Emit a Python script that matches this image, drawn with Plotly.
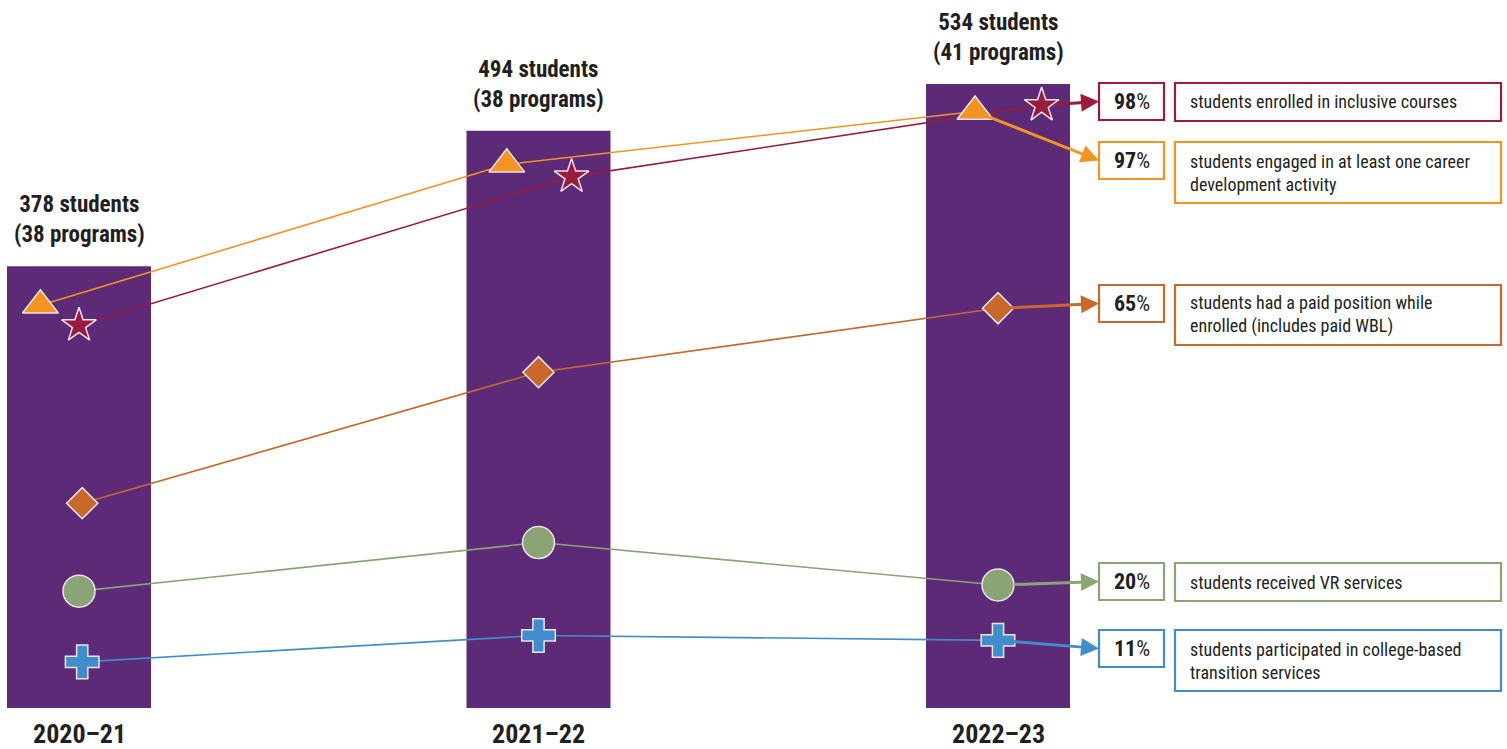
import plotly.graph_objects as go

# ---------------- data ----------------
years = ["2020–21", "2021–22", "2022–23"]
students = [378, 494, 534]
programs = [38, 38, 41]

series_names = ["inclusive", "career", "paid", "vr", "college"]
inclusive = [62.2, 86.4, 98]
career = [65.5, 88.4, 97]
paid = [33.3, 54.6, 65]
vr = [19.0, 26.9, 20]
college = [7.5, 11.8, 11]

labels = {
    "inclusive": "students enrolled in inclusive courses",
    "career": "students engaged in at least one career<br>development activity",
    "paid": "students had a paid position while<br>enrolled (includes paid WBL)",
    "vr": "students received VR services",
    "college": "students participated in college-based<br>transition services",
}

# ---------------- styling ----------------
W, H = 1507, 749
X0_PX, X_UNIT = 79, 459.5          # pixel of first category, px per category
Y0_PX = 708                        # baseline pixel
Y_STU = 624 / 534                  # px per student
Y_PCT = 6.15                       # px per percent

FONT = "Roboto Condensed, Liberation Sans Narrow, Roboto, sans-serif"
TXT = "#231f20"
PURPLE = "#5c2a77"

style = {
    "inclusive": dict(color="#9b1b3c", symbol="star", size=26, dx=[0.0, 0.072, 0.095]),
    "career": dict(color="#f39322", symbol="triangle-up", size=31, dx=[-0.084, -0.069, -0.050]),
    "paid": dict(color="#c8682a", symbol="diamond", size=24, dx=[0.007, 0, 0]),
    "vr": dict(color="#8aa475", symbol="circle", size=32, dx=[0, 0, 0]),
    "college": dict(color="#418dcb", symbol="cross", size=28, dx=[0.007, 0, 0]),
}
values = dict(inclusive=inclusive, career=career, paid=paid, vr=vr, college=college)

# label boxes: (top px, text-box height px)
boxes = {
    "inclusive": (83, 38),
    "career": (142, 61),
    "paid": (285, 60),
    "vr": (563, 38),
    "college": (630, 61),
}
PCT_L, PCT_R = 1099, 1164
LAB_L, LAB_R = 1175, 1501
PCT_H = 37


def px2x(px):
    return (px - X0_PX) / X_UNIT


def py2pct(py):
    return (Y0_PX - py) / Y_PCT


fig = go.Figure()

xs = list(range(len(years)))
fig.add_trace(go.Bar(
    x=xs, y=students, width=144 / X_UNIT, marker=dict(color=PURPLE, line=dict(width=0)),
    yaxis="y", hoverinfo="skip",
))

draw_order = ["college", "vr", "paid", "inclusive", "career"]
for name in draw_order:
    s = style[name]
    xv = [i + d for i, d in zip(xs, s["dx"])]
    fig.add_trace(go.Scatter(
        x=xv, y=values[name], yaxis="y2", mode="lines+markers",
        line=dict(color=s["color"], width=1.6),
        marker=dict(symbol=s["symbol"], size=s["size"], color=s["color"],
                    line=dict(color="#ebe4ea", width=1.5)),
        hoverinfo="skip",
    ))

annotations = []
shapes = []

# student count labels above bars, year labels below
for i, (n, p) in enumerate(zip(students, programs)):
    annotations.append(dict(
        x=i, y=n, xref="x", yref="y", xanchor="center", yanchor="bottom", yshift=16,
        showarrow=False, text=f"<b>{n} students<br>({p} programs)</b>",
        font=dict(family=FONT, size=23, color=TXT), align="center",
    ))
    annotations.append(dict(
        x=i, y=0, xref="x", yref="y", xanchor="center", yanchor="top", yshift=-9,
        showarrow=False, text=f"<b>{years[i]}</b>",
        font=dict(family=FONT, size=26, color=TXT),
    ))

for name in series_names:
    s = style[name]
    top, h = boxes[name]
    cy = top + PCT_H / 2
    last_x = len(years) - 1 + s["dx"][-1]
    last_v = values[name][-1]
    # arrow
    annotations.append(dict(
        x=px2x(PCT_L), y=py2pct(cy), xref="x", yref="y2",
        ax=last_x, ay=last_v, axref="x", ayref="y2",
        showarrow=True, arrowhead=2, arrowsize=1.2, arrowwidth=3,
        arrowcolor=s["color"], startstandoff=s["size"] * 0.45, standoff=0, text="",
    ))
    # percent box
    shapes.append(dict(
        type="rect", xref="paper", yref="paper",
        x0=PCT_L / W, x1=PCT_R / W, y0=1 - (top + PCT_H) / H, y1=1 - top / H,
        line=dict(color=s["color"], width=2.2), fillcolor="white", layer="below",
    ))
    annotations.append(dict(
        x=(PCT_L + PCT_R) / 2 / W, y=1 - cy / H, xref="paper", yref="paper",
        xanchor="center", yanchor="middle",
        showarrow=False, text=f"<b>{last_v}</b>%",
        font=dict(family=FONT, size=22, color=TXT),
    ))
    # label box
    shapes.append(dict(
        type="rect", xref="paper", yref="paper",
        x0=LAB_L / W, x1=LAB_R / W, y0=1 - (top + h) / H, y1=1 - top / H,
        line=dict(color=s["color"], width=2.2), fillcolor="white", layer="below",
    ))
    annotations.append(dict(
        x=(LAB_L + 13) / W, y=1 - (top + h / 2) / H, xref="paper", yref="paper",
        xanchor="left", yanchor="middle", showarrow=False, align="left",
        text=labels[name], font=dict(family=FONT, size=18, color=TXT),
    ))

fig.update_layout(
    width=W, height=H, margin=dict(l=0, r=0, t=0, b=0),
    paper_bgcolor="white", plot_bgcolor="white", showlegend=False,
    hovermode=False,
    xaxis=dict(range=[px2x(0), px2x(W)], visible=False, fixedrange=True),
    yaxis=dict(range=[-(H - Y0_PX) / Y_STU, Y0_PX / Y_STU], visible=False, fixedrange=True),
    yaxis2=dict(range=[-(H - Y0_PX) / Y_PCT, Y0_PX / Y_PCT], visible=False,
                overlaying="y", fixedrange=True),
    annotations=annotations, shapes=shapes,
)

fig.write_html("out.html", config={"displayModeBar": False})
